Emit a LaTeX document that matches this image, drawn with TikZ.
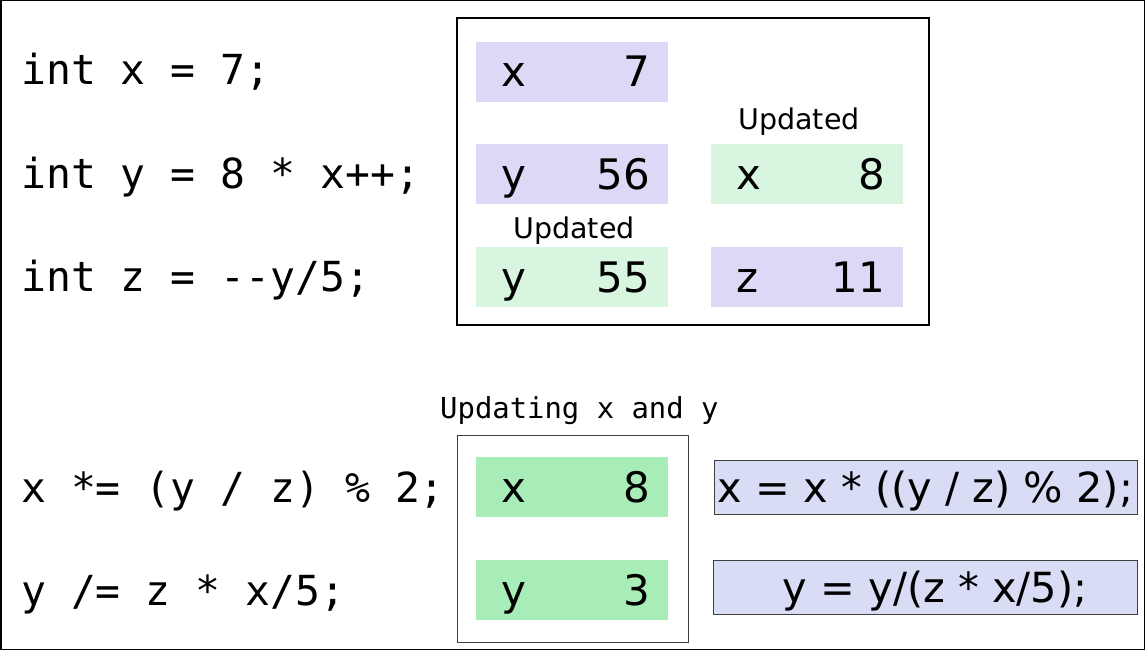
\documentclass[tikz,border=0pt]{standalone}
\usepackage{fontspec}
\setmainfont{DejaVu Sans}
\setmonofont{DejaVu Sans Mono}
\usepackage{xcolor}

\definecolor{oldcell}{HTML}{DDD8F5}
\definecolor{newcell}{HTML}{D8F5E0}
\definecolor{hotcell}{HTML}{A8ECB8}
\definecolor{exprfill}{HTML}{D8DCF5}
\definecolor{exprline}{HTML}{404040}

\tikzset{
  code/.style={anchor=base west, font=\ttfamily\fontsize{41.4}{48}\selectfont, inner sep=0pt},
  cell/.style={minimum width=192pt, minimum height=60pt, text width=156pt, inner xsep=18pt,
    inner ysep=0pt, text height=30pt, text depth=0pt, font=\fontsize{42}{50}\selectfont,
    execute at begin node=\hspace*{7pt}},
  expr/.style={draw=exprline, fill=exprfill, line width=1pt, minimum height=54pt, inner sep=0pt,
    text height=30pt, text depth=0pt, font=\fontsize{41.5}{49}\selectfont},
  note/.style={anchor=base, inner sep=0pt, font=\fontsize{28.5}{34}\selectfont}
}

\begin{document}
\begin{tikzpicture}[x=1pt, y=-1pt]
\useasboundingbox (0,0) rectangle (1145,650);
\draw[line width=1.5pt] (0.75,0.75) rectangle (1144.25,649.25);

% source lines
\node[code] (l1) at (21,85) {int x = 7;};
\node[code] (l2) at (21,188) {int y = 8 * x++;};
\node[code] (l3) at (21,291) {int z = --y/5;};
\node[code] (l4) at (21,502) {x *= (y / z) \% 2;};
\node[code] (l5) at (21,605) {y /= z * x/5;};

% memory after the declarations
\draw[line width=1.5pt] (457,18) rectangle (929,325);
\node[cell, fill=oldcell] (x7) at (572,72) {x\hfill 7};
\node[cell, fill=oldcell] (y56) at (572,174) {y\hfill 56};
\node[cell, fill=newcell] (y55) at (572,277) {y\hfill 55};
\node[cell, fill=newcell] (x8) at (807,174) {x\hfill 8};
\node[cell, fill=oldcell] (z11) at (807,277) {z\hfill 11};
\node[note] (updx) at (799,130) {Updated};
\node[note] (updy) at (574,238) {Updated};

% compound assignments
\node[anchor=base west, inner sep=0pt, font=\ttfamily\fontsize{28.9}{34}\selectfont] (title) at (440,418) {Updating x and y};
\draw[exprline, line width=1pt] (457,435) rectangle (688,642);
\node[cell, fill=hotcell] (x8b) at (572,487) {x\hfill 8};
\node[cell, fill=hotcell] (y3) at (572,590) {y\hfill 3};
\node[expr, minimum width=423pt] (ex) at (925.5,487) {x = x * ((y / z) \% 2);};
\node[expr, minimum width=424pt] (ey) at (925,587) {\hspace*{20pt}y = y/(z * x/5);};

\end{tikzpicture}
\end{document}
